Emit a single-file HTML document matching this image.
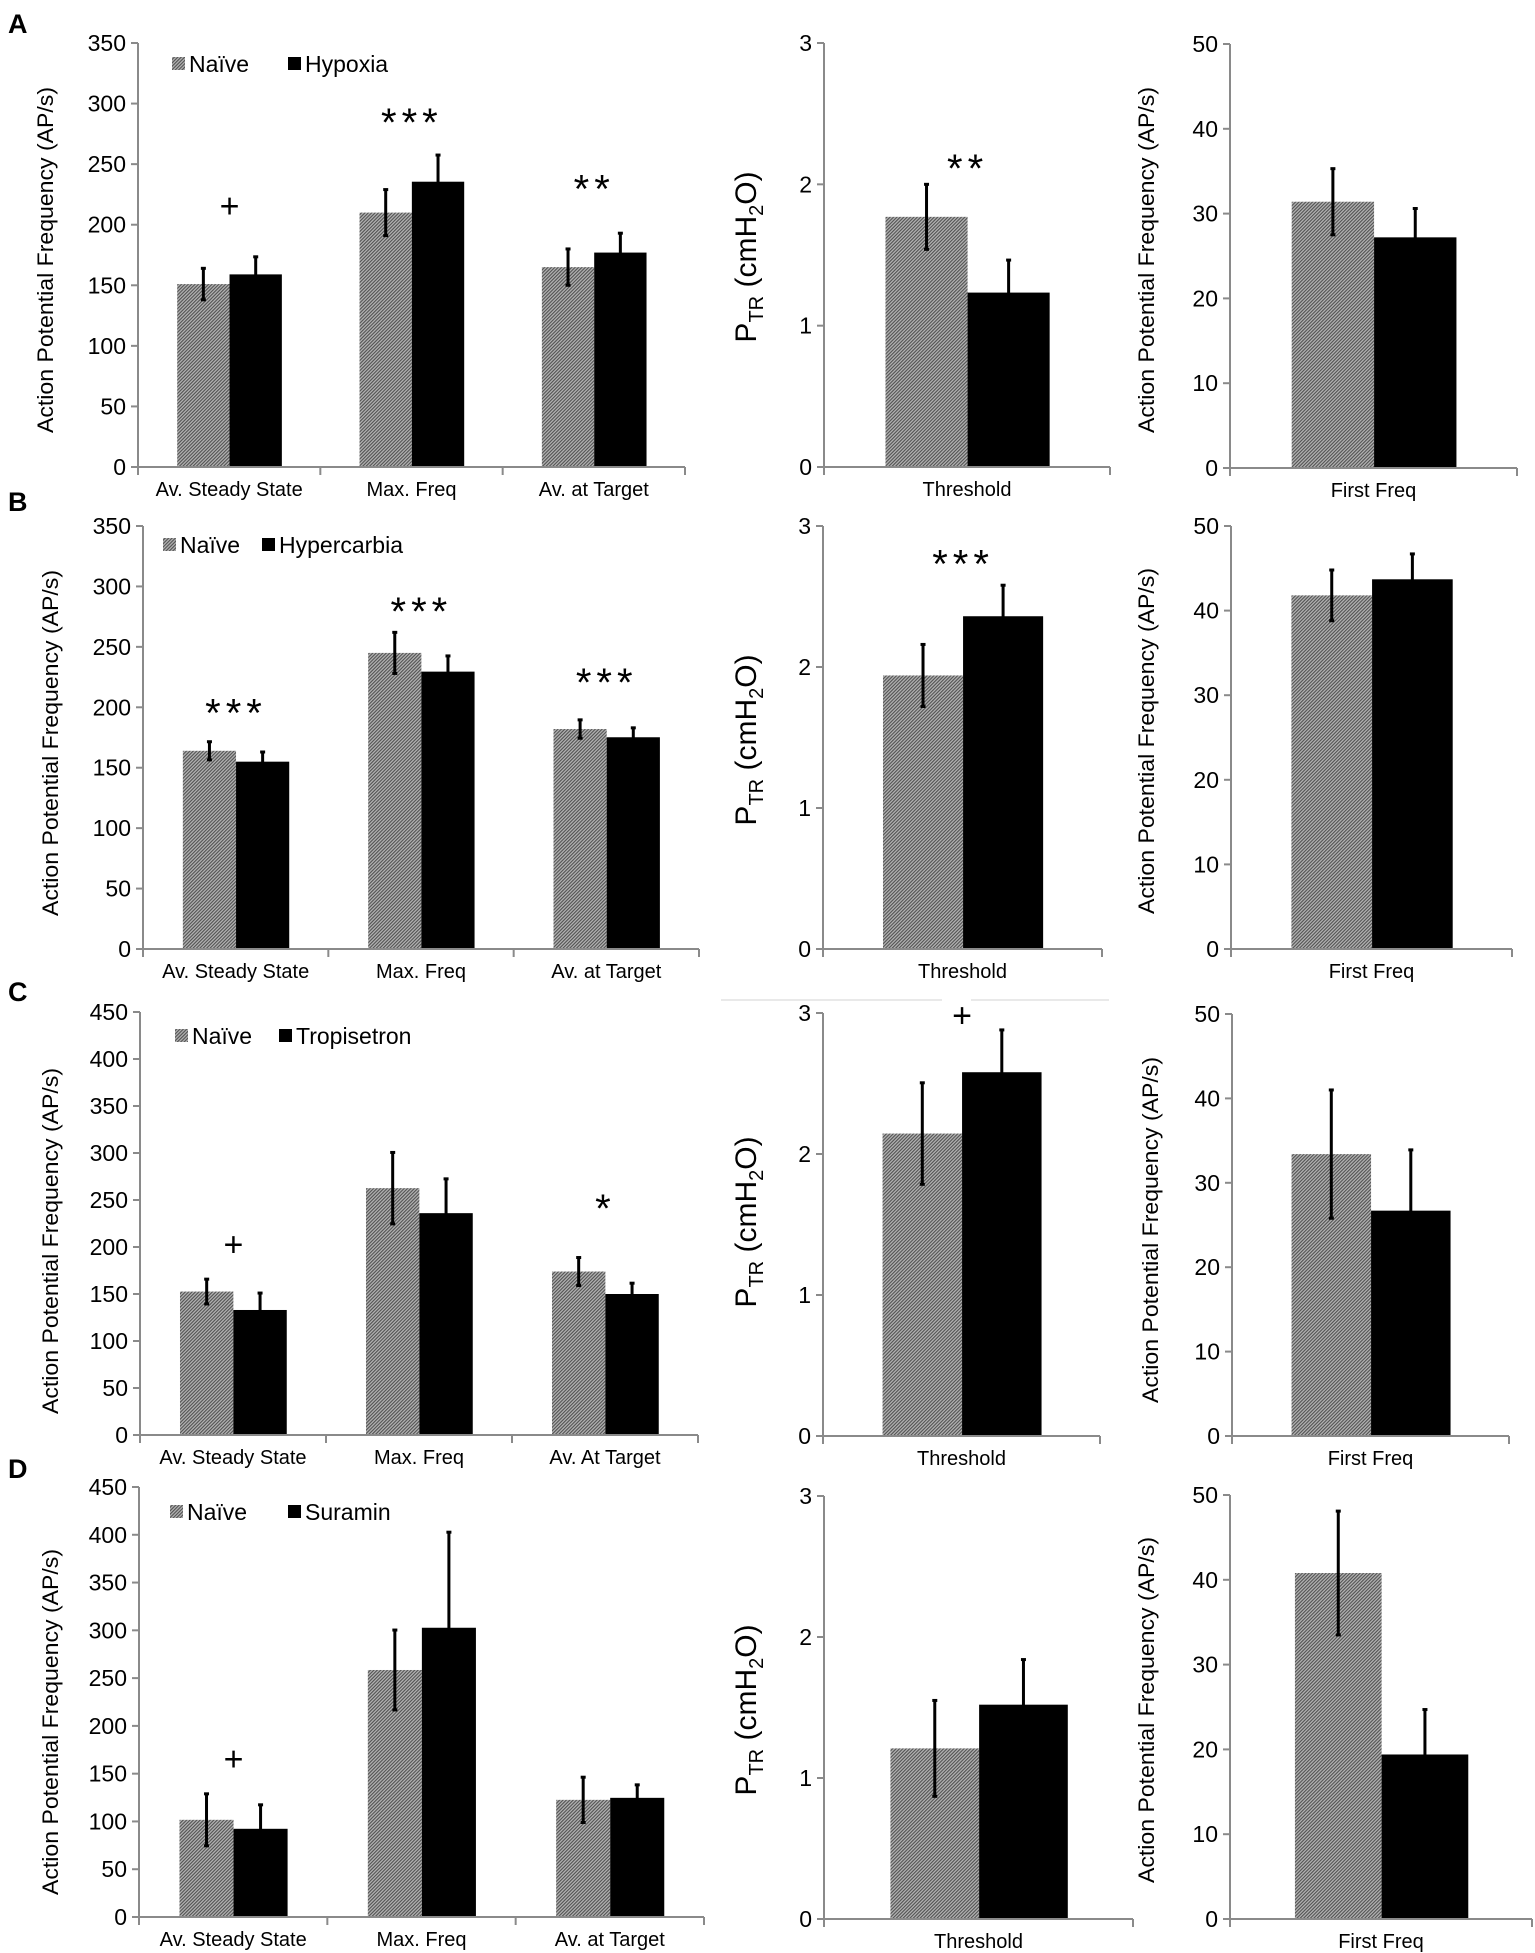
<!DOCTYPE html>
<html><head><meta charset="utf-8"><style>
html,body{margin:0;padding:0;background:#fff;}
svg{display:block;}
text{font-family:"Liberation Sans",Arial,sans-serif;fill:#000;}
.tick{font-family:"Liberation Sans Narrow","Liberation Sans",sans-serif;font-size:23px;}
.cat{font-family:"Liberation Sans Narrow","Liberation Sans",sans-serif;font-size:20px;}
</style></head><body>
<svg id="fig" width="1535" height="1953" viewBox="0 0 1535 1953" xmlns="http://www.w3.org/2000/svg">
<defs>
<pattern id="hatch" patternUnits="userSpaceOnUse" width="2.4" height="2.4" patternTransform="rotate(45)">
<rect width="2.4" height="2.4" fill="#b4b4b4"/><rect width="1.1" height="2.4" fill="#505050"/>
</pattern>
</defs>
<g id="root"></g>
</svg>
<script>
// ---------- DATA ----------
const leftCats = ["Av. Steady State","Max. Freq","Av. at Target"];
const leftCatsC = ["Av. Steady State","Max. Freq","Av. At Target"];
const midCats = ["Threshold"];
const rightCats = ["First Freq"];
const treatments = ["Hypoxia","Hypercarbia","Tropisetron","Suramin"];

const aLeftNaive=[151,210,165], aLeftNaiveErr=[13,19,15];
const aLeftTreat=[159,235.5,177], aLeftTreatErr=[14.5,22,16];
const aLeftSig=["+","***","**"], aLeftSigY=[215,289,234];
const aMidNaive=[1.77], aMidNaiveErr=[0.23], aMidTreat=[1.234], aMidTreatErr=[0.23];
const aMidSig=["**"], aMidSigY=[2.15];
const aRightNaive=[31.4], aRightNaiveErr=[3.9], aRightTreat=[27.2], aRightTreatErr=[3.4];

const bLeftNaive=[164,245,182], bLeftNaiveErr=[7.5,17,7.6];
const bLeftTreat=[155,229.5,175.2], bLeftTreatErr=[8,13,7.8];
const bLeftSig=["***","***","***"], bLeftSigY=[200,284,225];
const bMidNaive=[1.94], bMidNaiveErr=[0.22], bMidTreat=[2.36], bMidTreatErr=[0.22];
const bMidSig=["***"], bMidSigY=[2.77];
const bRightNaive=[41.8], bRightNaiveErr=[3.0], bRightTreat=[43.7], bRightTreatErr=[3.0];

const cLeftNaive=[152.6,262.6,173.9], cLeftNaiveErr=[13.2,38,14.9];
const cLeftTreat=[133,236,150], cLeftTreatErr=[18,36.5,11.5];
const cLeftSig=["+","","*"], cLeftSigY=[202,0,247];
const cMidNaive=[2.145], cMidNaiveErr=[0.36], cMidTreat=[2.58], cMidTreatErr=[0.30];
const cMidSig=["+"], cMidSigY=[2.98];
const cRightNaive=[33.4], cRightNaiveErr=[7.6], cRightTreat=[26.7], cRightTreatErr=[7.2];

const dLeftNaive=[101.7,258.5,122.6], dLeftNaiveErr=[27.2,41.8,23.7];
const dLeftTreat=[92.3,302.7,124.7], dLeftTreatErr=[25.1,100,13.6];
const dLeftSig=["+","",""], dLeftSigY=[165,0,0];
const dMidNaive=[1.21], dMidNaiveErr=[0.34], dMidTreat=[1.52], dMidTreatErr=[0.32];
const dMidSig=[], dMidSigY=[];
const dRightNaive=[40.8], dRightNaiveErr=[7.3], dRightTreat=[19.4], dRightTreatErr=[5.3];

// ---------- DRAW ----------
const NS="http://www.w3.org/2000/svg";
const root=document.getElementById('root');
function mk(tag,attrs,parent){const e=document.createElementNS(NS,tag);for(const k in attrs)e.setAttribute(k,attrs[k]);(parent||root).appendChild(e);return e;}

function chart(id,L,cats,naive,naiveErr,treat,treatErr,sig,sigY,title,titleX,titleY,isPtr){
  const g=mk('g',{});
  
  
  const ys=v=>L.y0-(v/L.max)*(L.y0-L.yt);
  const cw=(L.end-L.ax)/cats.length;
  for(let v=0;v<=L.max+1e-9;v+=L.step){
    const y=ys(v);
    const t=mk('line',{x1:L.ax-7,x2:L.ax,y1:y,y2:y,stroke:'#8a8a8a','stroke-width':2},g);
    
    
    const lb=mk('text',{x:L.ax-12,y:y+8,'text-anchor':'end',class:'tick'},g);
    lb.textContent=String(Math.round(v*100)/100);
    
    
  }
  cats.forEach((c,i)=>{
    const x0=L.ax+i*cw;
    const bx=x0+0.215*cw, bw=0.287*cw;
    const hb=mk('rect',{x:bx,y:ys(naive[i]),width:bw,height:L.y0-ys(naive[i]),fill:'url(#hatch)'},g);
    
    
    const tb=mk('rect',{x:bx+bw,y:ys(treat[i]),width:bw,height:L.y0-ys(treat[i]),fill:'#000'},g);
    
    
    [[bx+bw/2,naive[i],naiveErr[i]],[bx+1.5*bw,treat[i],treatErr[i]]].forEach(([cx,v,e])=>{
      const el=mk('line',{x1:cx,x2:cx,y1:ys(v-e),y2:ys(v+e),stroke:'#000','stroke-width':3},g);
      
      
      mk('line',{x1:cx-2.5,x2:cx+2.5,y1:ys(v+e),y2:ys(v+e),stroke:'#000','stroke-width':3},g);
      mk('line',{x1:cx-2.5,x2:cx+2.5,y1:ys(v-e),y2:ys(v-e),stroke:'#000','stroke-width':3},g);
    });
    if(sig[i]){
      const plus=sig[i]==='+';
      const s=mk('text',{x:bx+bw,y:ys(sigY[i])+(plus?11:19),'text-anchor':'middle','font-size':plus?34:40,'letter-spacing':plus?0:5},g);
      s.textContent=sig[i];
      
      
    }
    const cl=mk('text',{x:x0+cw/2,y:L.y0+29,'text-anchor':'middle',class:'cat'},g);
    cl.textContent=c;
    
    
    if(i>0){mk('line',{x1:x0,x2:x0,y1:L.y0,y2:L.y0+8,stroke:'#8a8a8a','stroke-width':2},g);}
  });
  mk('line',{x1:L.end,x2:L.end,y1:L.y0,y2:L.y0+8,stroke:'#8a8a8a','stroke-width':2},g);
  const ya=mk('line',{x1:L.ax,x2:L.ax,y1:L.yt,y2:L.y0+8,stroke:'#8a8a8a','stroke-width':2},g);
  
  
  const xa=mk('line',{x1:L.ax-7,x2:L.end,y1:L.y0,y2:L.y0,stroke:'#8a8a8a','stroke-width':2},g);
  
  
  const tt=mk('text',{transform:`translate(${titleX},${titleY}) rotate(-90)`,'text-anchor':'middle'},g);
  
  
  if(isPtr){
    tt.setAttribute('font-size','30');
    tt.setAttribute('y','10');
    tt.innerHTML='P<tspan font-size="20" dy="7">TR</tspan><tspan dy="-7"> (cmH</tspan><tspan font-size="20" dy="7">2</tspan><tspan dy="-7">O)</tspan>';
  } else {
    tt.setAttribute('font-size','22');
    tt.setAttribute('y','8');
    tt.setAttribute('textLength','346');
    tt.setAttribute('lengthAdjust','spacingAndGlyphs');
    tt.textContent=title;
  }
  return g;
}

function legend(x1,x2,y,treatName){
  const g=mk('g',{});
  
  
  const e1=mk('rect',{x:x1,y:y-7,width:13,height:13,fill:'url(#hatch)'},g);
  
  
  const t1=mk('text',{x:x1+17,y:y+8,'font-size':23,class:'tick'},g);t1.textContent='Naïve';
  
  
  const e2=mk('rect',{x:x2,y:y-7,width:13,height:13,fill:'#000'},g);
  
  
  const t2=mk('text',{x:x2+17,y:y+8,'font-size':23,class:'tick'},g);t2.textContent=treatName;
  
  
}
function letter(ch,y){
  const t=mk('text',{x:8,y:y,'font-size':27,'font-weight':'bold'});
  t.textContent=ch;
  
  
}
const APT="Action Potential Frequency (AP/s)";

letter('A',33);
chart('chart-a-left',{ax:138,end:685,y0:467,yt:43,max:350,step:50},leftCats,aLeftNaive,aLeftNaiveErr,aLeftTreat,aLeftTreatErr,aLeftSig,aLeftSigY,APT,45,260,false);
chart('chart-a-mid',{ax:824,end:1110,y0:467,yt:43,max:3,step:1},midCats,aMidNaive,aMidNaiveErr,aMidTreat,aMidTreatErr,aMidSig,aMidSigY,'',746,257,true);
chart('chart-a-right',{ax:1230,end:1517,y0:468,yt:44,max:50,step:10},rightCats,aRightNaive,aRightNaiveErr,aRightTreat,aRightTreatErr,[],[],APT,1146,260,false);
legend(172,288,64,treatments[0]);
letter('B',511);
chart('chart-b-left',{ax:143,end:699,y0:949,yt:526,max:350,step:50},leftCats,bLeftNaive,bLeftNaiveErr,bLeftTreat,bLeftTreatErr,bLeftSig,bLeftSigY,APT,50,743,false);
chart('chart-b-mid',{ax:823,end:1102,y0:949,yt:526,max:3,step:1},midCats,bMidNaive,bMidNaiveErr,bMidTreat,bMidTreatErr,bMidSig,bMidSigY,'',746,740,true);
chart('chart-b-right',{ax:1231,end:1512,y0:949,yt:526,max:50,step:10},rightCats,bRightNaive,bRightNaiveErr,bRightTreat,bRightTreatErr,[],[],APT,1146,741,false);
legend(163,262,545,treatments[1]);
letter('C',1001);
mk('line',{x1:721,x2:942,y1:1000,y2:1000,stroke:'#e2e2e2','stroke-width':1.5});
mk('line',{x1:971,x2:1109,y1:1000,y2:1000,stroke:'#e2e2e2','stroke-width':1.5});
chart('chart-c-left',{ax:140,end:698,y0:1435,yt:1012,max:450,step:50},leftCatsC,cLeftNaive,cLeftNaiveErr,cLeftTreat,cLeftTreatErr,cLeftSig,cLeftSigY,APT,50,1241,false);
chart('chart-c-mid',{ax:823,end:1100,y0:1436,yt:1013,max:3,step:1},midCats,cMidNaive,cMidNaiveErr,cMidTreat,cMidTreatErr,cMidSig,cMidSigY,'',746,1222,true);
chart('chart-c-right',{ax:1232,end:1509,y0:1436,yt:1014,max:50,step:10},rightCats,cRightNaive,cRightNaiveErr,cRightTreat,cRightTreatErr,[],[],APT,1150,1230,false);
legend(175,279,1036,treatments[2]);
letter('D',1478);
chart('chart-d-left',{ax:139,end:704,y0:1917,yt:1487,max:450,step:50},leftCats,dLeftNaive,dLeftNaiveErr,dLeftTreat,dLeftTreatErr,dLeftSig,dLeftSigY,APT,50,1722,false);
chart('chart-d-mid',{ax:824,end:1133,y0:1919,yt:1496,max:3,step:1},midCats,dMidNaive,dMidNaiveErr,dMidTreat,dMidTreatErr,dMidSig,dMidSigY,'',746,1710,true);
chart('chart-d-right',{ax:1230,end:1532,y0:1919,yt:1495,max:50,step:10},rightCats,dRightNaive,dRightNaiveErr,dRightTreat,dRightTreatErr,[],[],APT,1146,1710,false);
legend(170,288,1512,treatments[3]);
</script>
</body></html>
